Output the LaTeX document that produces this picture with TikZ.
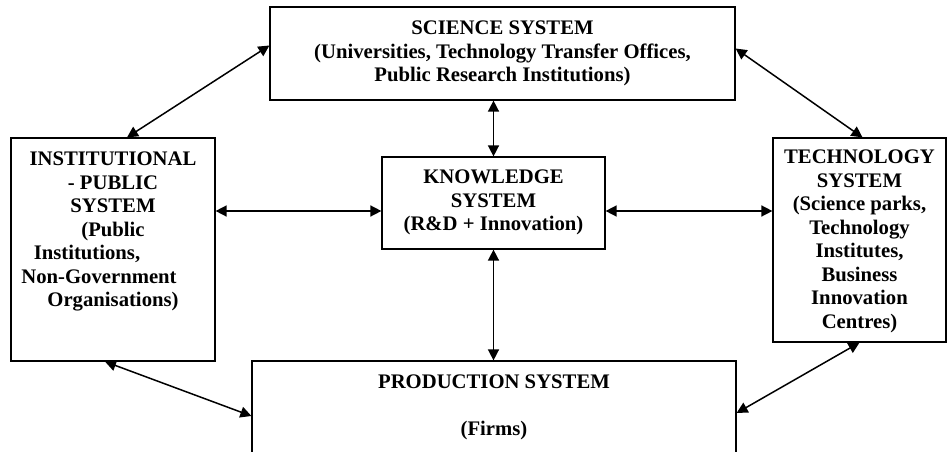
\documentclass[tikz,border=0pt]{standalone}
\usepackage{fontspec}
\setmainfont{Liberation Serif}
\usetikzlibrary{positioning,arrows.meta}

\begin{document}
\begin{tikzpicture}[x=1pt, y=-1pt, line width=1.2pt, >={Triangle[length=11pt,width=11pt]}]
		\tikzstyle{system} = [draw, rectangle, inner sep=0pt]
		\tikzstyle{caption} = [align=center, inner sep=0pt, font=\bfseries\fontsize{20.7}{23.5}\selectfont]
		\tikzstyle{link} = [<->, line width=1.5pt]

		\useasboundingbox (0,0) rectangle (947,452);

		% Define the boxes
		\node[system, minimum width=465pt, minimum height=93pt] (sci) at (502.5,53.5) {};
		\node[system, minimum width=204pt, minimum height=223pt] (inst) at (113,249.5) {};
		\node[system, minimum width=223pt, minimum height=92pt] (know) at (493.5,203) {};
		\node[system, minimum width=173pt, minimum height=204pt] (tech) at (859.5,240) {};
		\node[system, minimum width=484pt, minimum height=114pt] (prod) at (494,418) {};

		% Texts hanging from the top of each box
		\node[caption, below=14pt of sci.north] (sci-txt) {SCIENCE SYSTEM\\(Universities, Technology Transfer Offices,\\Public Research Institutions)};
		\node[caption, below=14pt of inst.north] (inst-txt) {INSTITUTIONAL\\- PUBLIC\\SYSTEM\\(Public\\Institutions,\rule{52pt}{0pt}\\Non-Government\rule{28pt}{0pt}\\Organisations)};
		\node[caption, below=13pt of know.north] (know-txt) {KNOWLEDGE\\SYSTEM\\(R\&D + Innovation)};
		\node[caption, below=12pt of tech.north] (tech-txt) {TECHNOLOGY\\SYSTEM\\(Science parks,\\Technology\\Institutes,\\Business\\Innovation\\Centres)};
		\node[caption, below=14pt of prod.north] (prod-txt) {PRODUCTION SYSTEM\\[23.5pt](Firms)};

		% Ends of the level arrows through the knowledge box
		\coordinate (kw) at ([yshift=-8pt]know.west);
		\coordinate (ke) at ([yshift=-8pt]know.east);

		% Draw the two-way links
		\draw[link] ([xshift=14pt]inst.north) -- ([yshift=8pt]sci.west);
		\draw[link] ([yshift=5pt]sci.east) -- ([xshift=3pt]tech.north);
		\draw[link] (know.north |- sci.south) -- (know.north);
		\draw[link] (kw -| inst.east) -- (kw);
		\draw[link] (ke) -- (ke -| tech.west);
		\draw[link] (know.south) -- (know.south |- prod.north);
		\draw[link] ([xshift=-8pt]inst.south) -- ([yshift=2pt]prod.west);
		\draw[link] (tech.south) -- ([yshift=5pt]prod.east);

		\end{tikzpicture}
\end{document}
